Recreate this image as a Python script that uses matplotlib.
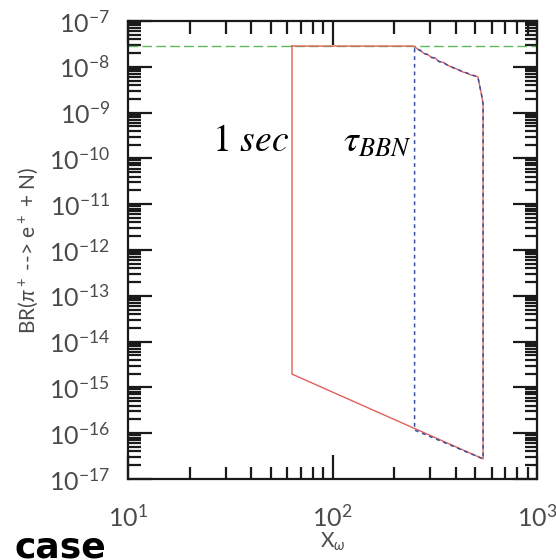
import matplotlib.pyplot as plt
from matplotlib.ticker import LogLocator, NullFormatter

plt.rcParams['mathtext.fontset'] = 'custom'
plt.rcParams['mathtext.rm'] = 'Lato'
plt.rcParams['mathtext.it'] = 'Lato:italic'
plt.rcParams['font.family'] = ['Lato', 'DejaVu Sans']

# upper bound (horizontal)
br_limit = 2.84e-8

# excluded region, red boundary
red_x = [63.4, 63.4, 545, 545, 538, 514, 495, 475, 455, 434, 416, 398, 380,
         363, 348, 332, 318, 305, 292, 280, 270, 262, 256, 248, 63.4]
red_y = [2.84e-8, 1.95e-15, 2.75e-17, 1.5e-9, 2.2e-9, 6.0e-9, 6.4e-9, 6.6e-9,
         7.3e-9, 7.7e-9, 8.5e-9, 9.2e-9, 1.0e-8, 1.1e-8, 1.25e-8, 1.3e-8,
         1.55e-8, 1.6e-8, 1.85e-8, 1.95e-8, 2.25e-8, 2.4e-8, 2.6e-8, 2.84e-8,
         2.84e-8]

# region with lifetime below tau_BBN, blue boundary
blue_x = [252, 252, 545, 545, 538, 514, 495, 475, 455, 434, 416, 398, 380,
          363, 348, 332, 318, 305, 292, 280, 270, 262, 256, 252]
blue_y = [2.5e-8, 1.17e-16, 2.75e-17, 1.5e-9, 2.2e-9, 6.0e-9, 6.4e-9, 6.6e-9,
          7.3e-9, 7.7e-9, 8.5e-9, 9.2e-9, 1.0e-8, 1.1e-8, 1.25e-8, 1.3e-8,
          1.55e-8, 1.6e-8, 1.85e-8, 1.95e-8, 2.25e-8, 2.4e-8, 2.6e-8, 2.5e-8]

fig = plt.figure(figsize=(5.56, 5.60), dpi=100)
ax = fig.add_axes([128 / 556, 1 - 479 / 560, 409 / 556, 458 / 560])

ax.axhline(br_limit, color='#5cb85c', lw=1.0, ls=(0, (7, 3)))
ax.plot(red_x, red_y, color='#e0605a', lw=1.0)
ax.plot(blue_x, blue_y, color='#3a4fa0', lw=1.1, ls=(0, (2.5, 2.5)))

ax.set_xscale('log')
ax.set_yscale('log')
ax.set_xlim(10, 1000)
ax.set_ylim(1e-17, 1e-7)

ax.xaxis.set_major_locator(LogLocator(base=10, numticks=10))
ax.yaxis.set_major_locator(LogLocator(base=10, numticks=20))
ax.xaxis.set_minor_locator(LogLocator(base=10, subs=range(2, 10), numticks=20))
ax.yaxis.set_minor_locator(LogLocator(base=10, subs=range(2, 10), numticks=40))
ax.xaxis.set_minor_formatter(NullFormatter())
ax.yaxis.set_minor_formatter(NullFormatter())

ax.tick_params(which='both', direction='in', top=True, right=True,
               width=1.6, colors='#1a1a1a', labelcolor='#4a4a4a')
ax.tick_params(which='major', length=17, labelsize=18)
ax.tick_params(which='minor', length=9)
ax.tick_params(axis='x', which='major', pad=18)
ax.tick_params(axis='y', which='major', pad=13)
for s in ax.spines.values():
    s.set_linewidth(1.6)
    s.set_color('#1a1a1a')

ax.set_ylabel('BR($\\pi^+$ --> e$^+$ + N)', fontsize=15, color='#4a4a4a',
              labelpad=6)
ax.set_xlabel('X$_\\omega$', fontsize=15, color='#4a4a4a', labelpad=0)

ax.text(39.5, 2.5e-10, '$1\\ sec$', fontsize=27, math_fontfamily='stix',
        ha='center', va='center', color='black')
ax.text(165, 2.5e-10, '$\\tau_{BBN}$', fontsize=27,
        math_fontfamily='stix', ha='center', va='center', color='black')

fig.text(15 / 556, 2 / 560, 'case', fontsize=26, fontweight='bold',
         family='DejaVu Sans', color='black', ha='left', va='baseline')

fig.savefig('out.png', dpi=100)
